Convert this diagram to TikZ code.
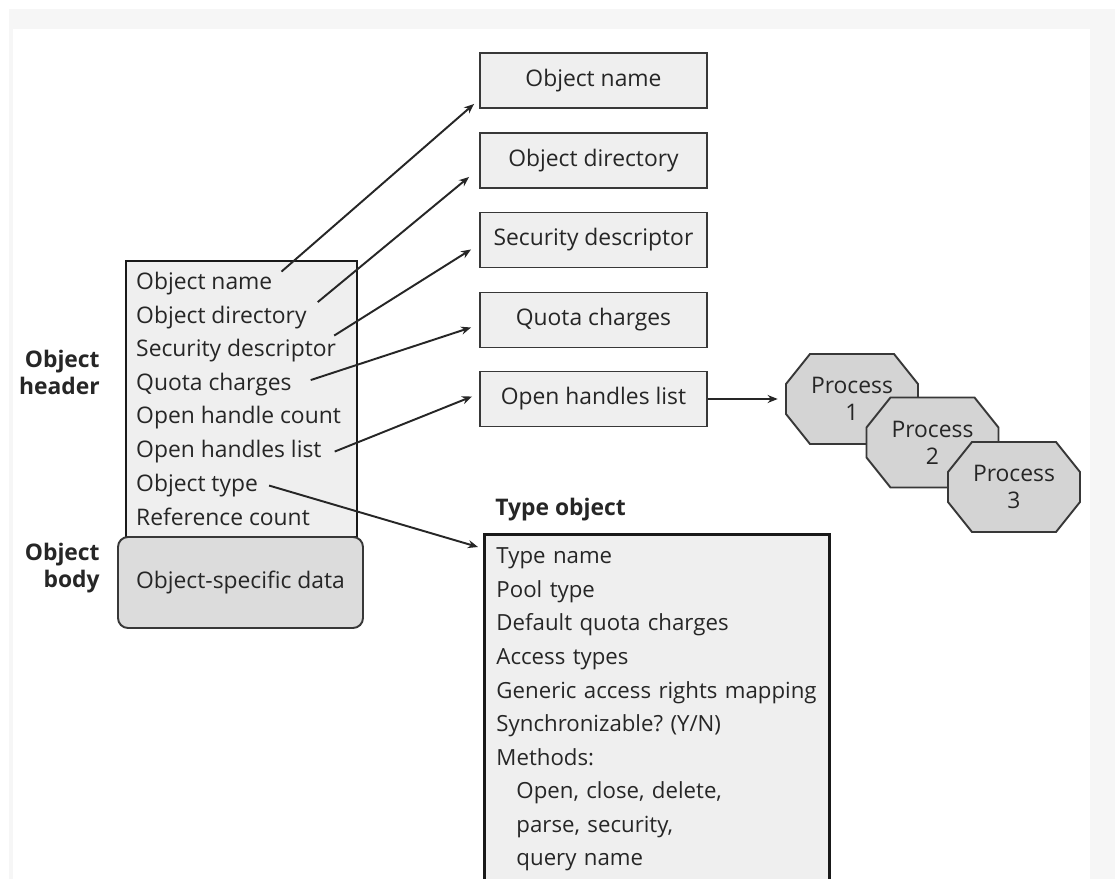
\documentclass[tikz,border=0pt]{standalone}
\usepackage{fontspec}
\setmainfont{Open Sans}
\usetikzlibrary{arrows.meta, positioning, calc}
\definecolor{boxgray}{HTML}{EFEFEF}
\definecolor{bodygray}{HTML}{DCDCDC}
\definecolor{procgray}{HTML}{D4D4D4}
\definecolor{edge}{HTML}{383838}
\definecolor{ink}{HTML}{262626}
\definecolor{band}{HTML}{F6F6F6}
\frenchspacing

\begin{document}
\begin{tikzpicture}[
  font=\fontsize{13}{19.1}\selectfont, text=ink,
  field/.style={rectangle,draw=edge,fill=boxgray,line width=1.1pt, minimum width=4.54cm,minimum height=1.1cm,align=center},
  hdr/.style={rectangle,draw=black!90,fill=boxgray,line width=1.7pt, minimum width=4.62cm,minimum height=5.52cm},
  row/.style={anchor=base west,inner sep=0.5pt},
  bodybox/.style={rectangle,rounded corners=0.2cm,draw=edge,fill=bodygray,line width=1.1pt, minimum width=4.9cm,minimum height=1.82cm},
  tbox/.style={rectangle,draw=black!90,fill=boxgray,line width=1.7pt,anchor=north west, text width=6.42cm,align=left,inner xsep=0.24cm,inner ysep=0.27cm, font=\fontsize{12.65}{19.1}\selectfont},
  octo/.pic={\draw[draw=edge,fill=procgray,line width=1.1pt] (-0.84,0.9) -- (0.84,0.9) -- (1.32,0.3) -- (1.32,-0.3) -- (0.84,-0.9) -- (-0.84,-0.9) -- (-1.32,-0.3) -- (-1.32,0.3) -- cycle;},
  proc/.style={rectangle,minimum width=2.64cm,minimum height=1.8cm, align=center,inner sep=0pt,font=\fontsize{13}{15.4}\selectfont},
  tag/.style={font=\bfseries\fontsize{13}{15.4}\selectfont,align=right,anchor=east,inner sep=0pt},
  fl/.style={-{Stealth[length=0.2cm,width=0.16cm]},line width=1.1pt,draw=ink}
]
  \useasboundingbox (0,0) rectangle (22.3,-17.58);
  \fill[white] (0,0) rectangle (22.3,-17.58);
  \fill[band] (0.18,-0.18) rectangle (22.3,-17.58);
  \fill[white] (0.26,-0.58) rectangle (21.8,-17.58);

  % right column
  \node[field] (oname)  at (11.87,-1.61) {Object name};
  \node[field] (odir)   at (11.87,-3.21) {Object directory};
  \node[field] (osec)   at (11.87,-4.80) {Security descriptor};
  \node[field] (oquota) at (11.87,-6.40) {Quota charges};
  \node[field] (olist)  at (11.87,-7.98) {Open handles list};

  % object header and body
  \node[hdr] (header) at (4.83,-7.98) {};
  \node[row] (hname)  at (2.70,-5.79)  {Object name};
  \node[row] (hdir)   at (2.70,-6.46)  {Object directory};
  \node[row] (hsec)   at (2.70,-7.13)  {Security descriptor};
  \node[row] (hquota) at (2.70,-7.80)  {Quota charges};
  \node[row] (hcount) at (2.70,-8.47)  {Open handle count};
  \node[row] (hlist)  at (2.70,-9.15)  {Open handles list};
  \node[row] (htype)  at (2.70,-9.83)  {Object type};
  \node[row] (hrefc)  at (2.70,-10.51) {Reference count};
  \node[bodybox] (body) at (4.81,-11.65) {Object-specific data};
  \node[tag] (lhead) at (2.0,-7.44)  {Object\\header};
  \node[tag] (lbody) at (2.0,-11.36) {Object\\body};

  % type object
  \node[anchor=base west,inner sep=0pt,font=\bfseries\fontsize{13}{15.4}\selectfont] (ttitle) at (9.9,-10.3) {Type object};
  \node[tbox] (tobj) at (9.66,-10.66) {Type name\\
    Pool type\\
    Default quota charges\\
    Access types\\
    \mbox{Generic access rights mapping}\\
    Synchronizable? (Y/N)\\
    Methods:\\
    \hspace*{0.4cm}Open, close, delete,\\
    \hspace*{0.4cm}parse, security,\\
    \hspace*{0.4cm}query name\\
    ~};

  % processes
  \pic at (17.04,-7.98) {octo};
  \node[proc] (p1) at (17.04,-7.98) {Process\\1};
  \pic at (18.65,-8.85) {octo};
  \node[proc] (p2) at (18.65,-8.85) {Process\\2};
  \pic at (20.28,-9.74) {octo};
  \node[proc] (p3) at (20.28,-9.74) {Process\\3};

  \draw[fl] ($(hname.east)+(0.16,0.24)$) -- ($(oname.south west)+(-0.1,0.1)$);
  \draw[fl] ($(hdir.east)+(0.2,0.3)$) -- ($(odir.south west)+(-0.2,0.24)$);
  \draw[fl] ($(hsec.east)+(-0.06,0.3)$) -- ($(osec.south west)+(-0.16,0.38)$);
  \draw[fl] ($(hquota.east)+(0.36,0.08)$) -- ($(oquota.south west)+(-0.16,0.42)$);
  \draw[fl] ($(hlist.east)+(0.24,0)$) -- ($(olist.west)+(-0.14,0.05)$);
  \draw[fl] ($(htype.east)+(0.2,0)$) -- ($(tobj.north west)+(-0.1,-0.28)$);
  \draw[fl,shorten >=0.16cm] (olist.east) -- (p1.west);
\end{tikzpicture}
\end{document}
